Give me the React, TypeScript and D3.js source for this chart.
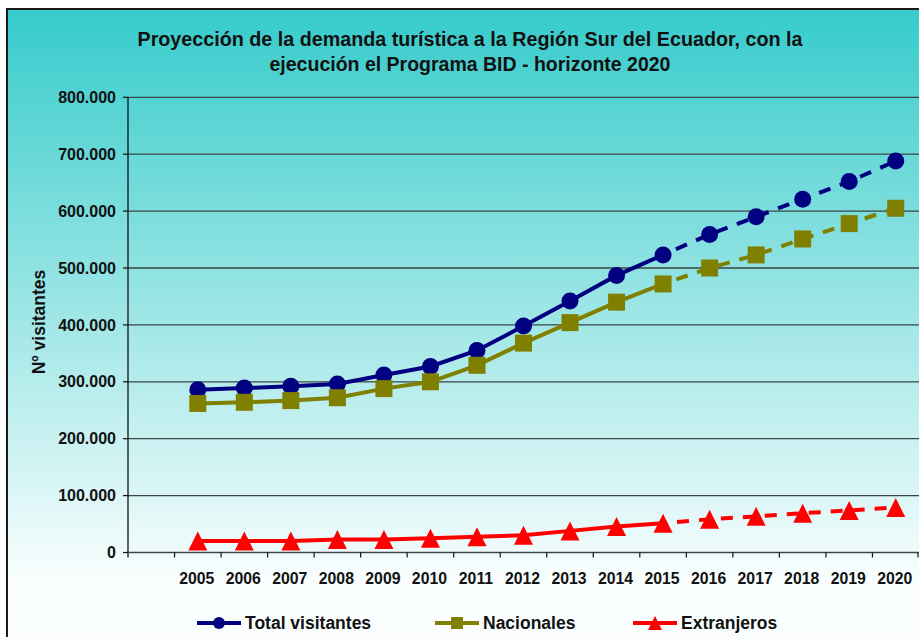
import * as d3 from "d3";

const years = ["2005", "2006", "2007", "2008", "2009", "2010", "2011", "2012", "2013", "2014", "2015", "2016", "2017", "2018", "2019", "2020"];
const total = [286000, 289000, 292000, 296000, 312000, 327000, 355000, 398000, 442000, 487000, 523000, 559000, 590000, 621000, 652000, 688000];
const nacionales = [262000, 264000, 267000, 272000, 288000, 300000, 329000, 368000, 404000, 440000, 472000, 500000, 523000, 551000, 578000, 605000];
const extranjeros = [20000, 20000, 20000, 23000, 23000, 25000, 27500, 30500, 38000, 45500, 51500, 58500, 63500, 69000, 74000, 79000];
const yTicks = [0, 100000, 200000, 300000, 400000, 500000, 600000, 700000, 800000];
const lastReal = "2015";

const W = 919, H = 637;
const margin = { top: 97.3, right: 0, bottom: 84.5, left: 128 };

const fmt = d3.formatLocale({ decimal: ",", thousands: ".", grouping: [3], currency: ["", ""] }).format(",d");

type Series = { name: string; values: number[]; color: string; marker: "circle" | "square" | "triangle" };
const series: Series[] = [
  { name: "Total visitantes", values: total, color: "#000080", marker: "circle" },
  { name: "Nacionales", values: nacionales, color: "#808000", marker: "square" },
  { name: "Extranjeros", values: extranjeros, color: "#FF0000", marker: "triangle" },
];

function Marker({ kind, x, y, color, size }: { kind: string; x: number; y: number; color: string; size: number }) {
  if (kind === "circle") return <circle cx={x} cy={y} r={size / 2} fill={color} />;
  if (kind === "square") return <rect x={x - size / 2} y={y - size / 2} width={size} height={size} fill={color} />;
  const h = size, w = size;
  return <path d={`M${x},${y - h / 2}L${x + w / 2},${y + h / 2}L${x - w / 2},${y + h / 2}Z`} fill={color} />;
}

export default function App() {
  const x = d3.scaleBand<string>().domain(["", ...years]).range([margin.left, W - margin.right]);
  const y = d3.scaleLinear().domain([0, 800000]).range([H - margin.bottom, margin.top]);
  const cx = (yr: string) => (x(yr) as number) + x.bandwidth() / 2;
  const line = d3.line<[string, number]>().x((d) => cx(d[0])).y((d) => y(d[1]));
  const split = years.indexOf(lastReal);
  const font = "'Liberation Sans', Arial, sans-serif";
  const legendX = [197, 435, 633];

  return (
    <svg width={W} height={H} style={{ position: "absolute", left: 0, top: 0 }} fontFamily={font}>
      <defs>
        <linearGradient id="bg" gradientUnits="userSpaceOnUse" x1="0" y1="9" x2="0" y2="585">
          <stop offset="0" stopColor="#36CBCB" />
          <stop offset="1" stopColor="#FBFEFE" />
        </linearGradient>
      </defs>
      <rect x={0} y={0} width={W} height={H} fill="#fff" />
      <rect x={7} y={9} width={W + 20} height={H + 20} fill="url(#bg)" stroke="#1a1a1a" strokeWidth={2} />

      <text x={470} y={46} textAnchor="middle" fontWeight="bold" fontSize={19.5} fill="#111" textLength={665} lengthAdjust="spacingAndGlyphs">
        Proyección de la demanda turística a la Región Sur del Ecuador, con la
      </text>
      <text x={470} y={71} textAnchor="middle" fontWeight="bold" fontSize={19.5} fill="#111">
        ejecución el Programa BID - horizonte 2020
      </text>

      {yTicks.map((t) => (
        <g key={t}>
          {t > 0 && <line x1={margin.left} x2={W} y1={y(t)} y2={y(t)} stroke="#3a4545" strokeWidth={1.3} />}
          <line x1={margin.left - 5} x2={margin.left} y1={y(t)} y2={y(t)} stroke="#111" strokeWidth={1.2} />
          <text x={116} y={y(t)} dy="0.35em" textAnchor="end" fontWeight="bold" fontSize={16} fill="#111">
            {fmt(t)}
          </text>
        </g>
      ))}
      <line x1={margin.left} x2={margin.left} y1={margin.top} y2={H - margin.bottom + 5} stroke="#111" strokeWidth={1.3} />
      <line x1={margin.left} x2={W} y1={y(0)} y2={y(0)} stroke="#444" strokeWidth={1.5} />
      {x.domain().slice(1).map((yr) => (
        <g key={yr}>
          <line x1={x(yr) as number} x2={x(yr) as number} y1={y(0)} y2={y(0) + 5} stroke="#111" strokeWidth={1.2} />
          <text x={cx(yr) - 1} y={584} textAnchor="middle" fontWeight="bold" fontSize={15.8} fill="#111">
            {yr}
          </text>
        </g>
      ))}
      <line x1={W - 1} x2={W - 1} y1={y(0)} y2={y(0) + 5} stroke="#111" strokeWidth={1.2} />

      <text transform={`translate(45,${322}) rotate(-90)`} textAnchor="middle" fontWeight="bold" fontSize={17.5} fill="#111">
        Nº visitantes
      </text>

      {series.map((s) => {
        const pts = years.map((yr, i) => [yr, s.values[i]] as [string, number]);
        return (
          <g key={s.name}>
            <path d={line(pts.slice(0, split + 1)) || ""} fill="none" stroke={s.color} strokeWidth={4} />
            <path d={line(pts.slice(split)) || ""} fill="none" stroke={s.color} strokeWidth={4} strokeDasharray="12 10" strokeDashoffset={-14} />
            {pts.map((p) => (
              <Marker key={p[0]} kind={s.marker} x={cx(p[0])} y={y(p[1])} color={s.color} size={s.marker === "triangle" ? 19 : 17} />
            ))}
          </g>
        );
      })}

      {series.map((s, i) => (
        <g key={s.name}>
          <line x1={legendX[i]} x2={legendX[i] + 44} y1={623} y2={623} stroke={s.color} strokeWidth={4} />
          <Marker kind={s.marker} x={legendX[i] + 22} y={623} color={s.color} size={s.marker === "triangle" ? 14 : 12} />
          <text x={legendX[i] + 48} y={623} dy="0.36em" fontWeight="bold" fontSize={17.5} fill="#111">
            {s.name}
          </text>
        </g>
      ))}
    </svg>
  );
}
